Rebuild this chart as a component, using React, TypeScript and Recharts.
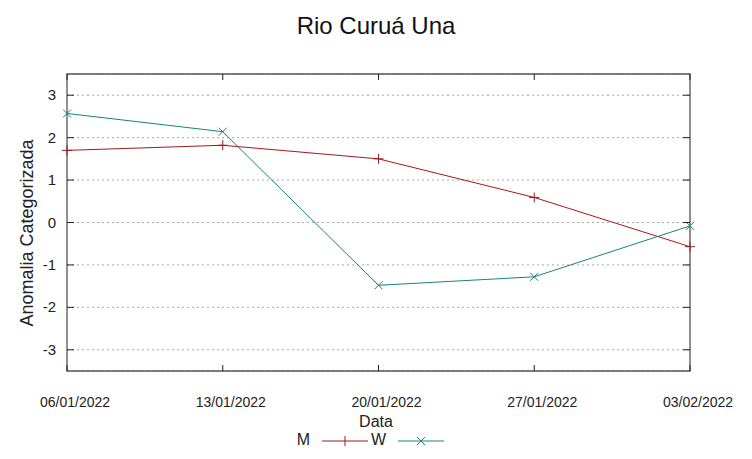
import React from "react";
import {
  LineChart,
  Line,
  XAxis,
  YAxis,
  CartesianGrid,
  ReferenceArea,
} from "recharts";

const dates = ["06/01/2022", "13/01/2022", "20/01/2022", "27/01/2022", "03/02/2022"];
const mValues = [1.7, 1.82, 1.5, 0.59, -0.57];
const wValues = [2.57, 2.14, -1.48, -1.28, -0.08];
const yTicks = [-3, -2, -1, 0, 1, 2, 3];

const seriesNames = ["M", "W"];
const seriesColors = ["#a01a1a", "#1a8080"];

const data = dates.map((d, i) => ({ date: d, M: mValues[i], W: wValues[i] }));

const W = 752;
const H = 459;
const PLOT = { left: 67, right: 690, top: 74, bottom: 371 };
const FONT = "'Liberation Sans', Arial, sans-serif";

const YTick = (props: any) => {
  const { x, y, payload } = props;
  return (
    <g>
      <line x1={PLOT.left} x2={PLOT.left + 7} y1={y} y2={y} stroke="#222" strokeWidth={1} />
      <line x1={PLOT.right - 7} x2={PLOT.right} y1={y} y2={y} stroke="#222" strokeWidth={1} />
      <text x={x - 11} y={y} dy={5} textAnchor="end" fontSize={15} fill="#222" fontFamily={FONT}>
        {payload.value}
      </text>
    </g>
  );
};

const XTick = (props: any) => {
  const { x, payload } = props;
  return (
    <g>
      <line x1={x} x2={x} y1={PLOT.bottom - 6} y2={PLOT.bottom} stroke="#222" strokeWidth={1} />
      <line x1={x} x2={x} y1={PLOT.top} y2={PLOT.top + 6} stroke="#222" strokeWidth={1} />
      <text x={x + 8} y={PLOT.bottom + 36} textAnchor="middle" fontSize={14} fill="#222" fontFamily={FONT}>
        {payload.value}
      </text>
    </g>
  );
};

const PlusDot = (props: any) => {
  const { cx, cy } = props;
  if (cx == null || cy == null) return null;
  const s = 5;
  return (
    <path
      key={`p-${cx}`}
      d={`M${cx - s},${cy}H${cx + s}M${cx},${cy - s}V${cy + s}`}
      stroke={seriesColors[0]}
      strokeWidth={1}
      fill="none"
    />
  );
};

const CrossDot = (props: any) => {
  const { cx, cy } = props;
  if (cx == null || cy == null) return null;
  const s = 4;
  return (
    <path
      key={`x-${cx}`}
      d={`M${cx - s},${cy - s}L${cx + s},${cy + s}M${cx - s},${cy + s}L${cx + s},${cy - s}`}
      stroke={seriesColors[1]}
      strokeWidth={1}
      fill="none"
    />
  );
};

export default function App() {
  return (
    <div style={{ position: "absolute", left: 0, top: 0, width: W, height: H, background: "#fff", fontFamily: FONT }}>
      <div
        style={{
          position: "absolute",
          top: 12,
          left: 0,
          width: W,
          textAlign: "center",
          fontSize: 24,
          color: "#111",
        }}
      >
        Rio Curuá Una
      </div>
      <LineChart
        width={W}
        height={H}
        data={data}
        margin={{ top: PLOT.top, right: W - PLOT.right, bottom: H - PLOT.bottom - 30, left: PLOT.left - 40 }}
      >
        <CartesianGrid vertical={false} stroke="#a8a8a8" strokeDasharray="2 3" />
        <XAxis
          dataKey="date"
          height={30}
          tickSize={0}
          tickMargin={0}
          axisLine={false}
          tickLine={false}
          tick={<XTick />}
          interval={0}
          padding={{ left: 0, right: 0 }}
        />
        <YAxis
          width={40}
          type="number"
          domain={[-3.5, 3.5]}
          ticks={yTicks}
          tickSize={0}
          tickMargin={0}
          axisLine={false}
          tickLine={false}
          tick={<YTick />}
          allowDataOverflow
        />
        <ReferenceArea
          x1={dates[0]}
          x2={dates[dates.length - 1]}
          y1={-3.5}
          y2={3.5}
          fill="none"
          stroke="#555"
          strokeWidth={1.3}
          ifOverflow="visible"
        />
        <Line
          type="linear"
          dataKey="M"
          stroke={seriesColors[0]}
          strokeWidth={1}
          dot={<PlusDot />}
          activeDot={false}
          isAnimationActive={false}
        />
        <Line
          type="linear"
          dataKey="W"
          stroke={seriesColors[1]}
          strokeWidth={1}
          dot={<CrossDot />}
          activeDot={false}
          isAnimationActive={false}
        />
      </LineChart>
      <div
        style={{
          position: "absolute",
          left: 27 - 150,
          top: 233 - 11,
          width: 300,
          height: 22,
          lineHeight: "22px",
          textAlign: "center",
          fontSize: 18,
          color: "#222",
          whiteSpace: "nowrap",
          transform: "rotate(-90deg)",
          transformOrigin: "50% 50%",
        }}
      >
        Anomalia Categorizada
      </div>
      <div
        style={{
          position: "absolute",
          top: 413,
          left: 0,
          width: W,
          textAlign: "center",
          fontSize: 16,
          color: "#222",
        }}
      >
        Data
      </div>
      {seriesNames.map((name, i) => {
        const textRight = 310 + 76 * i;
        return (
          <div key={name}>
            <div
              style={{
                position: "absolute",
                top: 431,
                left: textRight - 40,
                width: 40,
                textAlign: "right",
                fontSize: 16,
                color: "#222",
              }}
            >
              {name}
            </div>
            <svg
              style={{ position: "absolute", left: textRight + 12, top: 434 }}
              width={48}
              height={14}
            >
              <line x1={0} x2={46} y1={7} y2={7} stroke={seriesColors[i]} strokeWidth={1} />
              {i === 0 ? (
                <path d="M23,2V12" stroke={seriesColors[i]} strokeWidth={1} />
              ) : (
                <path d="M19,3L27,11M19,11L27,3" stroke={seriesColors[i]} strokeWidth={1} />
              )}
            </svg>
          </div>
        );
      })}
    </div>
  );
}
